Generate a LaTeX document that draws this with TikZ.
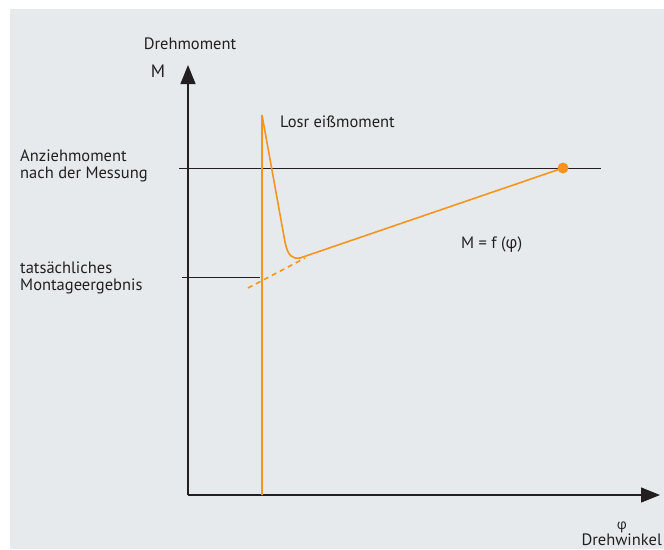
\documentclass[tikz,border=0pt]{standalone}
\usepackage{fontspec}
\setmainfont{PT Sans}
\newfontfamily\grk{Open Sans}
\usetikzlibrary{arrows.meta}
\definecolor{bg}{HTML}{E7EAED}
\definecolor{org}{HTML}{F7941D}
\definecolor{ink}{HTML}{231F20}
\tikzset{
  lbl/.style={inner sep=0pt, font=\fontsize{16.5}{17}\selectfont, text=ink},
  axis/.style={draw=ink, line width=1.3pt, -{Triangle[length=19pt,width=15pt]}},
  blk/.style={draw=ink, line width=1pt},
  curve/.style={draw=org, line width=1.6pt},
}
\begin{document}
\begin{tikzpicture}[x=1pt,y=-1pt]
\useasboundingbox (0,0) rectangle (664,549);
\fill[bg] (10,9) rectangle (664,549);
% axes
\coordinate (O) at (188,495);
\coordinate (Ytip) at (188,65);
\coordinate (Xtip) at (660,495);
\draw[axis] (O) -- (Ytip);
\draw[axis] (O) -- (Xtip);
% horizontal reference lines
\coordinate (h1a) at (179,168);
\coordinate (h1b) at (601,168);
\draw[blk] (h1a) -- (h1b);
\coordinate (h2a) at (182,277);
\coordinate (h2b) at (260,277);
\draw[blk] (h2a) -- (h2b);
% orange curve
\coordinate (vb) at (262,495);
\coordinate (vt) at (262,115);
\coordinate (mn) at (300,258);
\coordinate (end) at (563,168);
\draw[curve] (vb) -- (vt) -- (285,242) .. controls (288,256) and (292,259) .. (mn) -- (end);
\draw[org, line width=1.6pt, dash pattern=on 5pt off 4pt] (248,288) -- (305,258);
\node[circle, fill=org, inner sep=0pt, minimum size=11pt] (dot) at (end) {};
% labels
\node[lbl, anchor=base] (dm) at (190,49) {Drehmoment};
\node[lbl, anchor=base, font=\fontsize{18}{20}\selectfont] (M) at (158,77.5) {M};
\node[lbl, anchor=base west] (lr) at (280,127) {Losr eißmoment};
\node[lbl, anchor=base west] (az1) at (20,161) {Anziehmoment};
\node[lbl, anchor=base west] (az2) at (20,178) {nach der Messung};
\node[lbl, anchor=base west] (ts1) at (20,273.5) {tatsächliches};
\node[lbl, anchor=base west] (ts2) at (20,290) {Montageergebnis};
\node[lbl, anchor=base west] (mf) at (461,248) {M = f ({\grk φ})};
\node[lbl, anchor=base, font=\grk\fontsize{14}{15}\selectfont] (phi) at (622,529) {φ};
\node[lbl, anchor=base east] (dw) at (662,545) {Drehwinkel};
\end{tikzpicture}
\end{document}
